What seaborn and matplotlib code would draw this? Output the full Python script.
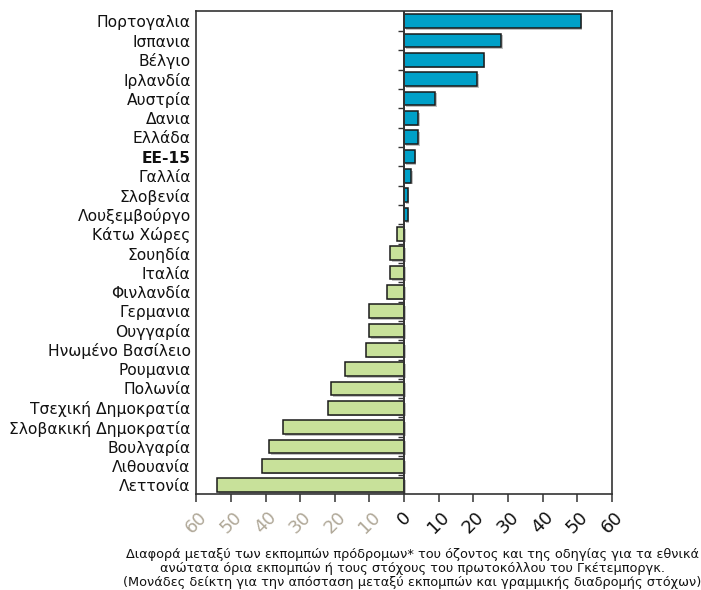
import matplotlib
matplotlib.use('Agg')
import matplotlib.pyplot as plt
import matplotlib.patheffects as pe
import seaborn as sns
import pandas as pd
import numpy as np

countries = ['Πορτογαλια', 'Ισπανια', 'Βέλγιο', 'Ιρλανδία', 'Αυστρία', 'Δανια',
             'Ελλάδα', 'EE-15', 'Γαλλία', 'Σλοβενία', 'Λουξεμβούργο', 'Κάτω Χώρες',
             'Σουηδία', 'Ιταλία', 'Φινλανδία', 'Γερμανια', 'Ουγγαρία',
             'Ηνωμένο Βασίλειο', 'Ρουμανια', 'Πολωνία', 'Τσεχική Δημοκρατία',
             'Σλοβακική Δημοκρατία', 'Βουλγαρία', 'Λιθουανία', 'Λεττονία']
values = [51, 28, 23, 21, 9, 4, 4, 3, 2, 1, 1, -2, -4, -4, -5, -10, -10, -11,
          -17, -21, -22, -35, -39, -41, -54]
xticks = [-60, -50, -40, -30, -20, -10, 0, 10, 20, 30, 40, 50, 60]
xtick_labels = ['60', '50', '40', '30', '20', '10', '0', '10', '20', '30', '40', '50', '60']
caption = ('Διαφορά μεταξύ των εκπομπών πρόδρομων* του όζοντος και της οδηγίας για τα εθνικά\n'
           'ανώτατα όρια εκπομπών ή τους στόχους του πρωτοκόλλου του Γκέτεμποργκ.\n'
           '(Μονάδες δείκτη για την απόσταση μεταξύ εκπομπών και γραμμικής διαδρομής στόχων)')

sns.set_theme(style='white')
plt.rcParams['font.family'] = ['DejaVu Sans']

fig = plt.figure(figsize=(7.01, 5.9), dpi=100)
ax = fig.add_axes([0.28, 0.163, 0.593, 0.818])

df = pd.DataFrame({'country': countries, 'value': values})
df['sign'] = np.where(df['value'] >= 0, 'pos', 'neg')

sns.barplot(data=df, x='value', y='country', hue='sign',
            palette={'pos': '#00A0C8', 'neg': '#C8E19A'}, dodge=False, saturation=1,
            width=0.7, edgecolor='#1a1a1a', linewidth=1.1, legend=False, ax=ax)
for p in ax.patches:
    p.set_path_effects([pe.SimplePatchShadow(offset=(1.2, -1.2), shadow_rgbFace='#999999',
                                             alpha=0.6), pe.Normal()])

n = len(countries)
ax.hlines([i + 0.5 for i in range(n - 1)], -1.7, 0, color='#333333', lw=1.0, zorder=1)
ax.axvline(0, color='#333333', lw=1.4, zorder=3)

ax.set_xlim(-60, 60)
ax.set_ylim(n - 0.55, -0.52)
ax.set_xticks(xticks)
ax.set_xticklabels(xtick_labels, rotation=45, ha='center', fontsize=13)
for lab, v in zip(ax.get_xticklabels(), xticks):
    lab.set_color('#B0A898' if v < 0 else '#111111')
ax.tick_params(axis='x', bottom=True, direction='out', length=6, width=1.1,
               color='#333333', pad=4)
ax.tick_params(axis='y', left=False, length=0, labelsize=11.2, pad=4)
for lab in ax.get_yticklabels():
    lab.set_color('#111111')
    if lab.get_text() == 'EE-15':
        lab.set_fontweight('bold')

ax.set_xlabel('')
ax.set_ylabel('')
for s in ax.spines.values():
    s.set_color('#333333')
    s.set_linewidth(1.2)

fig.text(0.588, 0.037, caption, ha='center', va='center', fontsize=9.3,
         linespacing=1.1, color='#111111')

fig.savefig('out.png', dpi=100)
